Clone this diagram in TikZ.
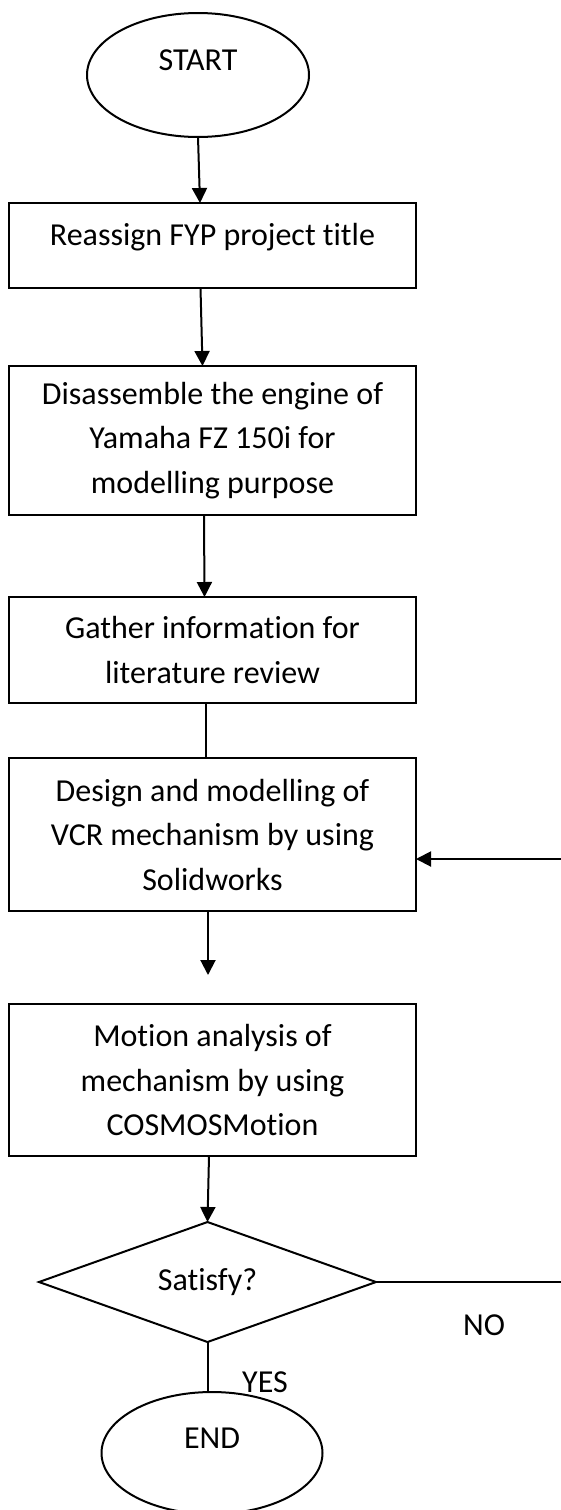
\documentclass[tikz,border=0pt]{standalone}
\usepackage{fontspec}
\setmainfont{Carlito}[Ligatures=NoCommon]
\usetikzlibrary{arrows.meta,shapes.geometric}
\begin{document}
\begin{tikzpicture}[x=1pt,y=-1pt,inner sep=0pt,outer sep=0pt,line width=2pt,
>={Triangle[length=15pt,width=15pt]},
every node/.style={font=\fontsize{32}{44.5}\selectfont},
procblock/.style={draw,rectangle,align=center,minimum width=407pt},
termblock/.style={draw,ellipse,text height=23pt,text depth=33pt},
decblock/.style={draw,diamond,aspect=2.8,minimum width=337pt,minimum height=120pt},
lbl/.style={inner sep=0pt}]
\useasboundingbox (0,0) rectangle (561,1510);
\draw (198,75) node[termblock,minimum width=222pt,minimum height=124pt] (start) {START};
\draw (212.5,245.5) node[procblock,minimum height=85pt,text height=23pt,text depth=24pt] (title) {Reassign FYP project title};
\draw (212.5,440.5) node[procblock,minimum height=149pt] (disasm) {Disassemble the engine of\\Yamaha FZ 150i for\\modelling purpose};
\draw (212.5,650) node[procblock,minimum height=106pt] (gather) {Gather information for\\literature review};
\draw (212.5,834.5) node[procblock,minimum height=153pt] (design) {Design and modelling of\\VCR mechanism by using\\Solidworks};
\draw (212.5,1080) node[procblock,minimum height=152pt] (motion) {Motion analysis of\\mechanism by using\\COSMOSMotion};
\draw (207.5,1282) node[decblock] (satisfy) {Satisfy?};
\draw (212,1453) node[termblock,minimum width=221pt,minimum height=122pt] (stop) {END};
\coordinate (loopin) at (561,859);
\coordinate (loopout) at (561,1282);
\coordinate (gap) at (208,975);
\draw[->] (start.south) -- ([xshift=-12.5pt]title.north);
\draw[->] ([xshift=-12pt]title.south) -- ([xshift=-10pt]disasm.north);
\draw[->] ([xshift=-8.5pt]disasm.south) -- ([xshift=-8pt]gather.north);
\draw ([xshift=-6.5pt]gather.south) -- ([xshift=-6.5pt]design.north);
\draw[->] ([xshift=-4.5pt]design.south) -- (gap);
\draw[->] ([xshift=-3.5pt]motion.south) -- (satisfy.north);
\draw (satisfy.east) -- (loopout);
\draw[->] (loopin) -- (loopin -| design.east);
\draw (satisfy.south) -- (satisfy.south |- stop.north);
\draw (484,1325) node[lbl] (nolbl) {NO};
\draw (265,1382) node[lbl] (yeslbl) {YES};
\end{tikzpicture}
\end{document}
